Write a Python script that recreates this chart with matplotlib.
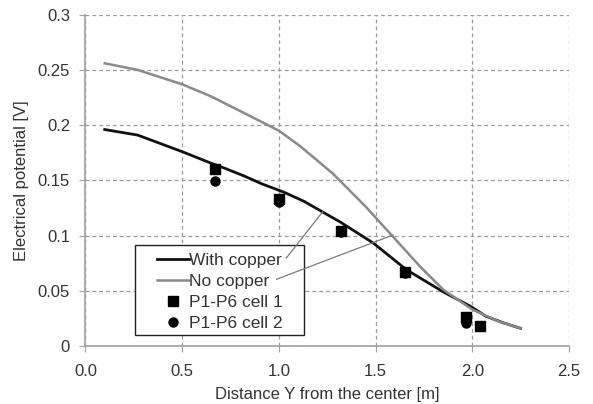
import numpy as np
import matplotlib
matplotlib.use("Agg")
import matplotlib.pyplot as plt
from matplotlib.lines import Line2D
from matplotlib.patches import Rectangle

plt.rcParams["font.family"] = ["Liberation Sans", "DejaVu Sans"]

# simulated curves
with_x = [0.10, 0.27, 0.50, 0.65, 0.72, 0.82, 0.91, 1.03, 1.13, 1.32, 1.49,
          1.66, 1.85, 1.99, 2.07, 2.16, 2.25]
with_y = [0.196, 0.191, 0.176, 0.1655, 0.161, 0.154, 0.147, 0.139, 0.131, 0.112,
          0.093, 0.069, 0.049, 0.036, 0.027, 0.021, 0.016]
no_x = [0.10, 0.27, 0.50, 0.65, 0.82, 1.00, 1.11, 1.28, 1.45, 1.59, 1.73, 1.85,
        2.00, 2.14, 2.25]
no_y = [0.256, 0.250, 0.237, 0.226, 0.211, 0.195, 0.181, 0.156, 0.126, 0.099,
        0.072, 0.051, 0.033, 0.022, 0.016]

# measured points
cell1_x = [0.67, 1.0, 1.32, 1.65, 1.97, 2.04]
cell1_y = [0.160, 0.133, 0.104, 0.067, 0.026, 0.018]
cell2_x = [0.67, 1.0, 1.32, 1.65, 1.97]
cell2_y = [0.149, 0.130, 0.103, 0.066, 0.021]

xticks = [0.0, 0.5, 1.0, 1.5, 2.0, 2.5]
yticks = [0, 0.05, 0.1, 0.15, 0.2, 0.25, 0.3]
ytick_labels = ["0", "0.05", "0.1", "0.15", "0.2", "0.25", "0.3"]

TXT = "#333333"
GRID = "#9a9a9a"

fig = plt.figure(figsize=(5.93, 4.04), dpi=100)
ax = fig.add_axes([0.144, 0.1436, 0.8155, 0.82])

ax.plot(with_x, with_y, color="#111111", lw=2.0, zorder=3)
ax.plot(no_x, no_y, color="#8a8a8a", lw=1.8, zorder=3)
ax.plot(cell1_x, cell1_y, ls="none", marker="s", ms=7.5, color="black", zorder=4)
ax.plot(cell2_x, cell2_y, ls="none", marker="o", ms=6.5, color="black", zorder=4)

# leader lines from the legend to the curves
ax.plot([1.039, 1.226], [0.0797, 0.1214], color="#7a7a7a", lw=0.9, zorder=7)
ax.plot([0.988, 1.59], [0.0604, 0.1005], color="#7a7a7a", lw=0.9, zorder=7)

ax.set_xlim(0, 2.5)
ax.set_ylim(0, 0.3)
ax.set_xticks(xticks)
ax.set_xticklabels([f"{t:.1f}" for t in xticks])
ax.set_yticks(yticks)
ax.set_yticklabels(ytick_labels)
ax.grid(True, color=GRID, ls=(0, (3, 2.5)), lw=0.9)
ax.set_axisbelow(True)

for s in ["top", "right"]:
    ax.spines[s].set_visible(False)
for s in ["left", "bottom"]:
    ax.spines[s].set_color("#a0a0a0")
    ax.spines[s].set_linewidth(1.2)
ax.tick_params(colors=TXT, labelsize=12, length=4, color="#a0a0a0")
ax.tick_params(axis="x", pad=9)
ax.tick_params(axis="y", pad=7)

ax.set_xlabel("Distance Y from the center [m]", fontsize=12, color=TXT, labelpad=6)
ax.set_ylabel("Electrical potential [V]", fontsize=12, color=TXT, labelpad=6)

# legend box drawn by hand, legend itself without frame
ax.add_patch(Rectangle((0.102, 0.033), 0.35, 0.272, transform=ax.transAxes,
                       facecolor="white", edgecolor="#222222", lw=1.0, zorder=5))
handles = [
    Line2D([], [], color="#111111", lw=2.0),
    Line2D([], [], color="#8a8a8a", lw=1.8),
    Line2D([], [], ls="none", marker="s", ms=7.5, color="black"),
    Line2D([], [], ls="none", marker="o", ms=6.5, color="black"),
]
labels = ["With copper", "No copper", "P1-P6 cell 1", "P1-P6 cell 2"]
leg = ax.legend(handles, labels, loc="upper left", bbox_to_anchor=(0.148, 0.281),
                fontsize=12.5, handlelength=1.85, handletextpad=0.0,
                labelspacing=0.33, borderpad=0, frameon=False, borderaxespad=0)
leg.set_zorder(6)
for t in leg.get_texts():
    t.set_color(TXT)

fig.savefig("out.png", dpi=100)
